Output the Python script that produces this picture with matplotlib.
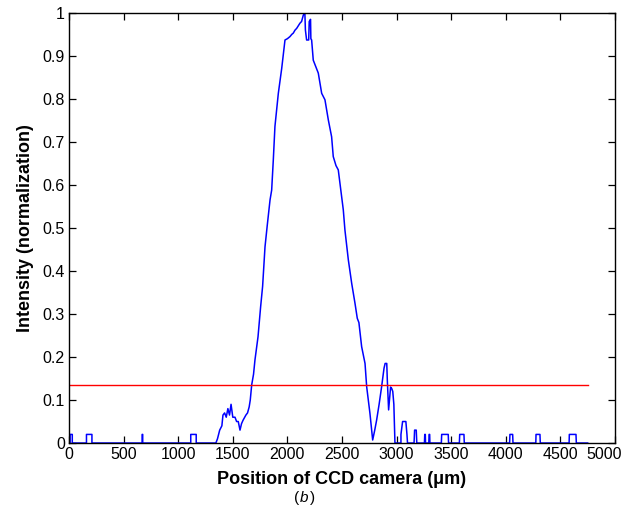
import matplotlib.pyplot as plt
import matplotlib.transforms as mtransforms
import numpy as np

plt.rcParams['font.family'] = ['Liberation Sans', 'DejaVu Sans']

# measured profile along the CCD (position in um, normalized intensity)
pos_um = [0, 10, 10, 30, 30, 160, 160, 210, 210, 670, 670, 675, 675,
          1115, 1115, 1165, 1165,
          1345, 1360, 1380, 1400, 1410, 1425, 1440, 1455, 1470, 1484, 1500,
          1520, 1535, 1550, 1566, 1580, 1594, 1620, 1635, 1650, 1660, 1673,
          1690, 1703, 1731, 1755, 1773, 1795, 1816, 1841, 1856, 1871, 1886,
          1917, 1948, 1978, 2000, 2024, 2040, 2054, 2070, 2085, 2100, 2115,
          2130, 2146, 2160, 2165, 2176, 2195, 2200, 2212, 2215, 2222, 2237,
          2260, 2283, 2314, 2344, 2375, 2405, 2420, 2445, 2466, 2497, 2512,
          2527, 2558, 2589, 2619, 2640, 2655, 2680, 2711, 2726, 2756, 2781,
          2800, 2817, 2840, 2863, 2885, 2895, 2910, 2915, 2927, 2935, 2945,
          2955, 2965, 2975, 2985,
          3040, 3040, 3055, 3085, 3095, 3100,
          3160, 3165, 3180, 3185,
          3255, 3258, 3263, 3265, 3295, 3298, 3303, 3305,
          3410, 3413, 3473, 3476,
          3575, 3578, 3617, 3620,
          4035, 4038, 4063, 4066,
          4275, 4277, 4313, 4316,
          4580, 4582, 4643, 4646, 4750]
intensity = [0, 0, 0.02, 0.02, 0, 0, 0.02, 0.02, 0, 0, 0.02, 0.02, 0,
             0, 0.02, 0.02, 0,
             0, 0.01, 0.03, 0.04, 0.065, 0.07, 0.06, 0.08, 0.065, 0.09, 0.06,
             0.06, 0.05, 0.05, 0.03, 0.045, 0.053, 0.065, 0.07, 0.084, 0.1, 0.135,
             0.16, 0.193, 0.247, 0.317, 0.364, 0.456, 0.507, 0.565, 0.588, 0.658, 0.736,
             0.813, 0.871, 0.937, 0.94, 0.945, 0.95, 0.953, 0.96, 0.964, 0.97, 0.976,
             0.98, 0.995, 1.0, 0.96, 0.937, 0.937, 0.98, 0.985, 0.94, 0.937, 0.89,
             0.875, 0.86, 0.813, 0.798, 0.751, 0.712, 0.666, 0.645, 0.635, 0.573, 0.542,
             0.495, 0.426, 0.371, 0.325, 0.29, 0.28, 0.224, 0.185, 0.131, 0.069, 0.007,
             0.03, 0.053, 0.09, 0.131, 0.174, 0.185, 0.185, 0.147, 0.077, 0.1, 0.13,
             0.127, 0.12, 0.09, 0,
             0, 0.02, 0.05, 0.05, 0.02, 0,
             0, 0.03, 0.03, 0,
             0, 0.02, 0.02, 0, 0, 0.02, 0.02, 0,
             0, 0.02, 0.02, 0,
             0, 0.02, 0.02, 0,
             0, 0.02, 0.02, 0,
             0, 0.02, 0.02, 0,
             0, 0.02, 0.02, 0, 0]

threshold = 0.135
threshold_span = [0, 4750]

fig = plt.figure(figsize=(6.29, 5.22), dpi=100)
ax = fig.add_axes([0.1097, 0.1513, 0.868, 0.824])

ax.plot(pos_um, intensity, color='#0000ff', linewidth=1.1)
ax.plot(threshold_span, [threshold, threshold], color='#ff0000', linewidth=1.0)

ax.set_xlim(0, 5000)
ax.set_ylim(0, 1)
ax.set_xticks(np.arange(0, 5001, 500))
ax.set_yticks(np.arange(0, 1.01, 0.1))
ax.set_yticklabels(['0', '0.1', '0.2', '0.3', '0.4', '0.5', '0.6', '0.7', '0.8', '0.9', '1'])
ax.tick_params(direction='in', top=True, right=True, length=5, width=0.9,
               labelsize=11.5, pad=3)
for s in ax.spines.values():
    s.set_linewidth(1.0)

# nudge the last x label left so it stays inside the figure
last = ax.get_xticklabels()[-1]
last.set_transform(last.get_transform() +
                   mtransforms.ScaledTranslation(-8 / 72, 0, fig.dpi_scale_trans))

ax.set_xlabel('Position of CCD camera (\u03bcm)', fontsize=13, fontweight='bold', labelpad=6)
ax.set_ylabel('Intensity (normalization)', fontsize=13, fontweight='bold', labelpad=6)
fig.text(0.4765, 0.046, '(', fontsize=11, ha='right', va='center')
fig.text(0.4765, 0.046, 'b', fontsize=11, style='italic', ha='left', va='center')
fig.text(0.4925, 0.046, ')', fontsize=11, ha='left', va='center')

plt.savefig('out.png', dpi=100)
